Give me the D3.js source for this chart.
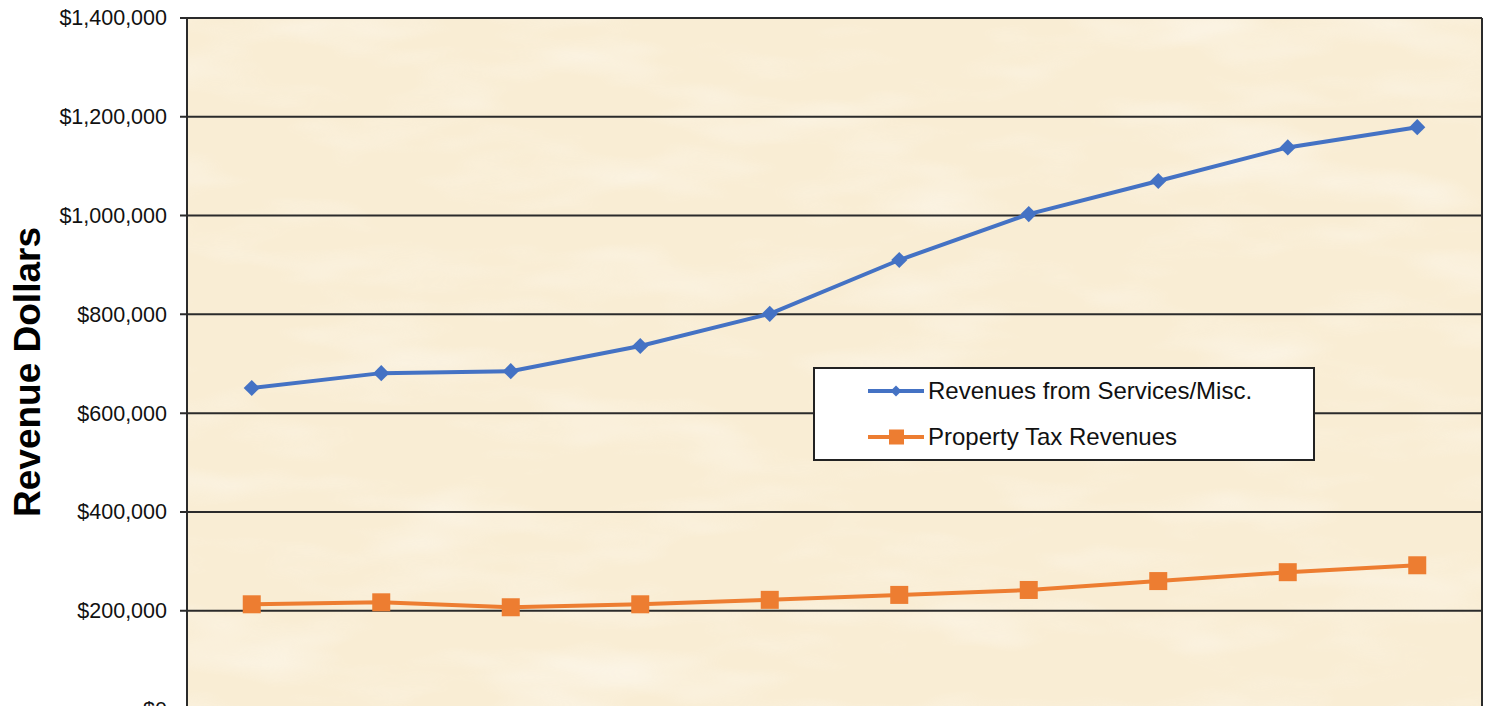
<!DOCTYPE html>
<html><head><meta charset="utf-8">
<script src="https://cdn.jsdelivr.net/npm/d3@7"></script>
<style>html,body{margin:0;padding:0;background:#fff;overflow:hidden}</style>
</head><body>
<svg id="c" width="1487" height="706"></svg>
<script>
const categories = ["1","2","3","4","5","6","7","8","9","10"];
const services = [651000, 681000, 685000, 736000, 801000, 910000, 1003000, 1070000, 1138000, 1179000];
const propertyTax = [213000, 217000, 207000, 213000, 222000, 232000, 242000, 260000, 278000, 292000];
const yTicks = [0, 200000, 400000, 600000, 800000, 1000000, 1200000, 1400000];
const seriesNames = ["Revenues from Services/Misc.", "Property Tax Revenues"];

const svg = d3.select("#c");
const L = 187, R = 1482, T = 18, B = 709.5;
const x = d3.scaleBand().domain(categories).range([L, R]);
const y = d3.scaleLinear().domain([0, 1400000]).range([B, T]);
const fmt = v => "$" + d3.format(",")(v);

// parchment texture
const defs = svg.append("defs");
const f = defs.append("filter").attr("id", "tex").attr("x", 0).attr("y", 0).attr("width", "100%").attr("height", "100%");
f.append("feTurbulence").attr("type", "fractalNoise").attr("baseFrequency", "0.006 0.02").attr("numOctaves", 3).attr("seed", 7).attr("result", "n");
f.append("feColorMatrix").attr("in", "n").attr("type", "matrix")
  .attr("values", "0 0 0 0 1  0 0 0 0 1  0 0 0 0 1  1.6 0 0 0 -0.75").attr("result", "w");
f.append("feComposite").attr("in", "w").attr("in2", "SourceGraphic").attr("operator", "in");

svg.append("rect").attr("x", L).attr("y", T).attr("width", R - L).attr("height", B - T).attr("fill", "#F9EDD4");
svg.append("rect").attr("x", L).attr("y", T).attr("width", R - L).attr("height", B - T).attr("fill", "#fff")
  .attr("filter", "url(#tex)").attr("opacity", 0.55);

// gridlines
svg.append("g").selectAll("line").data(yTicks).join("line")
  .attr("x1", L - 7).attr("x2", R).attr("y1", d => y(d)).attr("y2", d => y(d))
  .attr("stroke", "#2b2b2b").attr("stroke-width", 2);

svg.append("line").attr("x1", L).attr("x2", L).attr("y1", T).attr("y2", B).attr("stroke", "#2b2b2b").attr("stroke-width", 2);
svg.append("line").attr("x1", R).attr("x2", R).attr("y1", T).attr("y2", B).attr("stroke", "#2b2b2b").attr("stroke-width", 2);

const yAxis = d3.axisLeft(y).tickValues(yTicks).tickFormat(fmt).tickSize(0).tickPadding(20);
const ga = svg.append("g").attr("transform", `translate(${L},0)`).call(yAxis);
ga.select(".domain").remove();
ga.selectAll("text").attr("font-family", "Liberation Sans, Arial, sans-serif").attr("font-size", 21.5).attr("fill", "#111");

svg.append("text").attr("transform", "translate(40,372) rotate(-90)").attr("text-anchor", "middle")
  .attr("font-family", "Liberation Sans, Arial, sans-serif").attr("font-weight", "bold").attr("font-size", 37).attr("fill", "#000")
  .text("Revenue Dollars");

const cx = (d, i) => x(categories[i]) + x.bandwidth() / 2;
const line = d3.line().x(cx).y(d => y(d));

svg.append("path").datum(services).attr("d", line).attr("fill", "none").attr("stroke", "#4472C4").attr("stroke-width", 4);
svg.append("path").datum(propertyTax).attr("d", line).attr("fill", "none").attr("stroke", "#ED7D31").attr("stroke-width", 4);

svg.append("g").selectAll("path").data(services).join("path")
  .attr("d", d3.symbol().type(d3.symbolSquare).size(130)).attr("transform", (d, i) => `translate(${cx(d, i)},${y(d)}) rotate(45)`)
  .attr("fill", "#4472C4");
svg.append("g").selectAll("rect").data(propertyTax).join("rect")
  .attr("x", (d, i) => cx(d, i) - 9).attr("y", d => y(d) - 9).attr("width", 18).attr("height", 18)
  .attr("fill", "#ED7D31");

// legend
const lg = svg.append("g");
lg.append("rect").attr("x", 814).attr("y", 368).attr("width", 500).attr("height", 92).attr("fill", "#fff").attr("stroke", "#222").attr("stroke-width", 2);
const colors = ["#4472C4", "#ED7D31"];
seriesNames.forEach((n, i) => {
  const yy = 391 + i * 46;
  lg.append("line").attr("x1", 868).attr("x2", 924).attr("y1", yy).attr("y2", yy).attr("stroke", colors[i]).attr("stroke-width", 4);
  if (i === 0) {
    lg.append("path").attr("d", d3.symbol().type(d3.symbolSquare).size(60)).attr("transform", `translate(896,${yy}) rotate(45)`).attr("fill", colors[i]);
  } else {
    lg.append("rect").attr("x", 889).attr("y", yy - 7.5).attr("width", 15).attr("height", 15).attr("fill", colors[i]);
  }
  lg.append("text").attr("x", 928).attr("y", yy).attr("dy", "0.35em").attr("font-family", "Liberation Sans, Arial, sans-serif")
    .attr("font-size", 24).attr("fill", "#111").text(n);
});
</script>
</body></html>
